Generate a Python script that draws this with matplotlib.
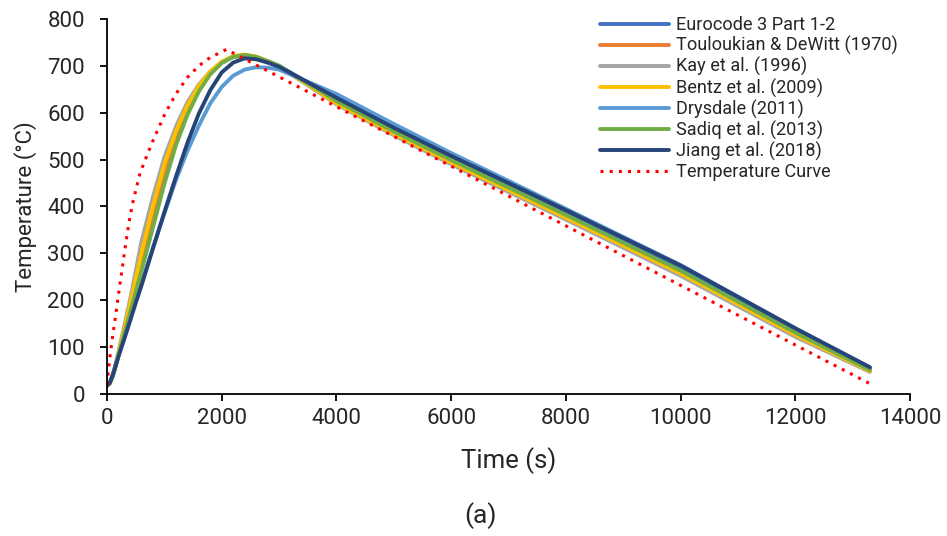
import matplotlib
matplotlib.use('Agg')
import matplotlib.pyplot as plt

# time grid (s) shared by the model curves
time = [0, 50, 100, 150, 200, 300, 400, 500, 600, 800, 1000, 1200, 1400,
        1600, 1800, 2000, 2200, 2400, 2600, 2800, 3000, 4000, 5000, 6000,
        8000, 10000, 12000, 13300]

eurocode = [18, 23, 38, 58, 83, 131, 178, 226, 273, 368, 460, 540, 602,
            649, 684, 707, 720, 723, 719, 710, 700, 628, 563, 503, 386, 268, 135, 54]
touloukian = [18, 23, 39, 60, 84, 134, 183, 234, 285, 383, 475, 550, 608,
              652, 685, 707, 719, 722, 718, 709, 699, 622, 557, 496, 378, 259, 128, 50]
kay = [18, 24, 42, 64, 90, 145, 200, 262, 325, 420, 505, 570, 622,
       660, 688, 708, 719, 722, 718, 709, 699, 618, 552, 490, 372, 252, 122, 47]
bentz = [18, 23, 40, 61, 86, 138, 190, 245, 300, 400, 490, 560, 615,
         657, 688, 709, 721, 724, 720, 710, 700, 620, 555, 494, 376, 257, 126, 49]
drysdale = [18, 24, 40, 61, 82, 120, 159, 198, 236, 312, 385, 456, 518,
            572, 620, 655, 679, 692, 697, 696, 692, 640, 576, 514, 395, 275, 140, 56]
sadiq = [18, 23, 38, 59, 82, 128, 172, 218, 262, 355, 448, 530, 595,
         645, 682, 706, 719, 723, 719, 710, 700, 625, 560, 499, 382, 263, 131, 51]
jiang = [18, 24, 40, 60, 80, 117, 155, 194, 231, 310, 388, 463, 535,
         598, 648, 686, 707, 716, 714, 707, 698, 632, 568, 508, 392, 274, 140, 57]

# fire temperature curve
t_fire = [0, 25, 50, 100, 150, 200, 250, 300, 350, 400, 460, 575, 700, 800,
          1000, 1200, 1400, 1600, 1800, 2000, 2080, 13330]
T_fire = [20, 50, 78, 125, 167, 212, 255, 298, 340, 378, 414, 471, 510, 540,
          595, 640, 675, 700, 718, 730, 735, 20]

labels = ['Eurocode 3 Part 1-2', 'Touloukian & DeWitt (1970)', 'Kay et al. (1996)',
          'Bentz et al. (2009)', 'Drysdale (2011)', 'Sadiq et al. (2013)',
          'Jiang et al. (2018)']
colors = ['#4472C4', '#ED7D31', '#A5A5A5', '#FFC000', '#5B9BD5', '#70AD47', '#264478']

plt.rcParams['font.family'] = ['Roboto', 'DejaVu Sans']
txt = '#262626'

fig = plt.figure(figsize=(9.47, 5.36), dpi=100)
ax = fig.add_axes([0.113, 0.265, 0.848, 0.6996])

series = [eurocode, touloukian, kay, bentz, drysdale, sadiq, jiang]
for ys, lab, c in zip(series, labels, colors):
    ax.plot(time, ys, color=c, lw=2.8, label=lab, solid_capstyle='round')
ax.plot(t_fire, T_fire, color='#FF0000', lw=2.2, linestyle=(0, (1, 2)),
        label='Temperature Curve')

ax.set_xlim(0, 14000)
ax.set_ylim(0, 800)
ax.set_xticks(range(0, 14001, 2000))
ax.set_yticks(range(0, 801, 100))
for s in ['top', 'right']:
    ax.spines[s].set_visible(False)
for s in ['left', 'bottom']:
    ax.spines[s].set_linewidth(1.3)
ax.tick_params(direction='out', length=5, width=1.3, labelsize=16,
               labelcolor=txt)
ax.tick_params(axis='x', pad=5)
ax.tick_params(axis='y', pad=11)
ax.set_xlabel('Time (s)', fontsize=18.5, color=txt, labelpad=13)
ax.set_ylabel('Temperature (°C)', fontsize=16, color=txt, labelpad=7)

leg = ax.legend(loc='upper left', bbox_to_anchor=(600 / 947, 1 - 16 / 536),
                bbox_transform=fig.transFigure, frameon=False, fontsize=13.1,
                handlelength=3.8, handletextpad=0.4, labelspacing=0.11,
                borderpad=0, borderaxespad=0)
for t in leg.get_texts():
    t.set_color(txt)

fig.text(480 / 947, 1 - 516 / 536, '(a)', fontsize=19, color=txt,
         ha='center', va='center')

fig.savefig('out.png', dpi=100)
